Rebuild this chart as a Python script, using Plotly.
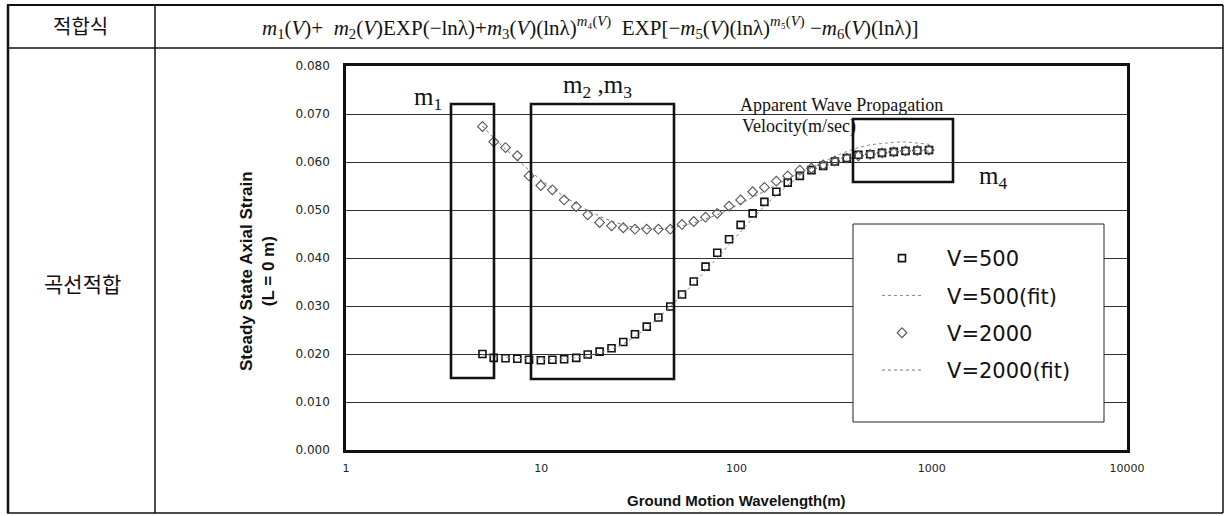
import plotly.graph_objects as go

# ---------------- data ----------------
wavelength = [5.0, 5.71, 6.56, 7.54, 8.66, 9.95, 11.4, 13.1, 15.1, 17.3,
              19.9, 22.9, 26.3, 30.2, 34.7, 39.8, 45.8, 52.6, 60.4, 69.4,
              79.7, 91.6, 105, 121, 139, 160, 183, 211, 242, 278,
              319, 367, 421, 484, 556, 639, 734, 843, 968]

v500 = [0.0200, 0.0192, 0.0191, 0.0190, 0.0188, 0.0187, 0.0188, 0.0189, 0.0192, 0.0199,
        0.0205, 0.0212, 0.0225, 0.0241, 0.0257, 0.0276, 0.0299, 0.0324, 0.0351, 0.0382,
        0.0411, 0.0439, 0.0469, 0.0493, 0.0517, 0.0538, 0.0557, 0.0571, 0.0583, 0.0592,
        0.0601, 0.0608, 0.0615, 0.0616, 0.0619, 0.0621, 0.0623, 0.0624, 0.0625]

v500_fit = [0.0198, 0.0195, 0.0193, 0.0191, 0.0190, 0.0189, 0.0189, 0.0190, 0.0192, 0.0196,
            0.0202, 0.0210, 0.0221, 0.0236, 0.0254, 0.0275, 0.0298, 0.0322, 0.0347, 0.0373,
            0.0400, 0.0428, 0.0456, 0.0483, 0.0508, 0.0531, 0.0552, 0.0570, 0.0586, 0.0600,
            0.0612, 0.0622, 0.0630, 0.0636, 0.0639, 0.0641, 0.0642, 0.0640, 0.0637]

v2000 = [0.0674, 0.0642, 0.0630, 0.0613, 0.0571, 0.0551, 0.0542, 0.0521, 0.0507, 0.0490,
         0.0474, 0.0467, 0.0463, 0.0460, 0.0460, 0.0460, 0.0460, 0.0470, 0.0476, 0.0485,
         0.0493, 0.0508, 0.0521, 0.0538, 0.0547, 0.0560, 0.0571, 0.0583, 0.0587, 0.0594,
         0.0602, 0.0608, 0.0613, 0.0616, 0.0619, 0.0621, 0.0623, 0.0624, 0.0625]

v2000_fit = [0.0675, 0.0650, 0.0627, 0.0604, 0.0583, 0.0563, 0.0545, 0.0528, 0.0513, 0.0499,
             0.0487, 0.0477, 0.0469, 0.0464, 0.0461, 0.0461, 0.0463, 0.0467, 0.0473, 0.0481,
             0.0490, 0.0501, 0.0513, 0.0526, 0.0539, 0.0552, 0.0565, 0.0577, 0.0588, 0.0598,
             0.0606, 0.0613, 0.0618, 0.0621, 0.0623, 0.0624, 0.0624, 0.0624, 0.0623]

x_tickvals = [1, 10, 100, 1000, 10000]
x_ticktext = ["1", "10", "100", "1000", "10000"]
y_tickvals = [0.0, 0.01, 0.02, 0.03, 0.04, 0.05, 0.06, 0.07, 0.08]

# ---------------- layout helpers ----------------
W, H = 1226, 516
L, R, T, B = 346, 1127, 66, 450


def px(x):
    return (x - L) / (R - L)


def py(y):
    return (B - y) / (B - T)


SANS = "Liberation Sans, Arial, sans-serif"
WIDE = "DejaVu Sans, sans-serif"
SERIF = "Liberation Serif, Times New Roman, serif"
KR = "Noto Sans CJK KR"
PAD = "\u00a0\u00a0\u00a0"

fig = go.Figure()

fig.add_trace(go.Scatter(
    x=wavelength, y=v500, mode="markers", name=PAD + "V=500", legendgroup="a",
    marker=dict(symbol="square-open", size=7, color="#111", line=dict(width=1.6)),
))
fig.add_trace(go.Scatter(
    x=wavelength, y=v500_fit, mode="lines", name=PAD + "V=500(fit)", legendgroup="b",
    line=dict(color="#888", width=1, dash="dot"),
))
fig.add_trace(go.Scatter(
    x=wavelength, y=v2000, mode="markers", name=PAD + "V=2000", legendgroup="c",
    marker=dict(symbol="diamond-open", size=7.5, color="#555", line=dict(width=1.1)),
))
fig.add_trace(go.Scatter(
    x=wavelength, y=v2000_fit, mode="lines", name=PAD + "V=2000(fit)", legendgroup="d",
    line=dict(color="#777", width=1, dash="dot"),
))

shapes = []
# table lines
tbl = dict(type="line", xref="paper", yref="paper", line=dict(color="#111", width=1.5), layer="above")
shapes += [
    dict(tbl, x0=px(7), x1=px(1223), y0=py(5), y1=py(5), line=dict(color="#111", width=2)),
    dict(tbl, x0=px(7), x1=px(1223), y0=py(48), y1=py(48)),
    dict(tbl, x0=px(7), x1=px(1223), y0=py(513), y1=py(513)),
    dict(tbl, x0=px(8), x1=px(8), y0=py(5), y1=py(513), line=dict(color="#111", width=2.5)),
    dict(tbl, x0=px(155), x1=px(155), y0=py(5), y1=py(513)),
    dict(tbl, x0=px(1223), x1=px(1223), y0=py(5), y1=py(513)),
]
# parameter boxes
box = dict(type="rect", xref="paper", yref="paper", line=dict(color="#111", width=2.6), layer="above")
shapes += [
    dict(box, x0=px(451), x1=px(494), y0=py(104), y1=py(378)),
    dict(box, x0=px(531), x1=px(674), y0=py(104), y1=py(379)),
    dict(box, x0=px(853), x1=px(953), y0=py(119), y1=py(182)),
]
# legend frame
shapes.append(dict(type="rect", xref="paper", yref="paper", x0=px(853), x1=px(1104),
                   y0=py(224), y1=py(422), fillcolor="white",
                   line=dict(color="#222", width=1), layer="above"))

annotations = [
    dict(text="적합식", x=px(80), y=py(26), font=dict(family=KR, size=20, color="#111")),
    dict(text="곡선적합", x=px(82), y=py(283), font=dict(family=KR, size=21, color="#111")),
    dict(text="<i>m</i><sub>1</sub>(<i>V</i>)+  <i>m</i><sub>2</sub>(<i>V</i>)EXP(−lnλ)+<i>m</i><sub>3</sub>(<i>V</i>)(lnλ)"
              "<sup><i>m</i>₄(<i>V</i>)</sup>  EXP[−<i>m</i><sub>5</sub>(<i>V</i>)(lnλ)<sup><i>m</i>₅(<i>V</i>)</sup>"
              " −<i>m</i><sub>6</sub>(<i>V</i>)(lnλ)]",
         x=px(590), y=py(27), font=dict(family=SERIF, size=21, color="#111")),
    dict(text="<b>Steady State Axial Strain<br>(L = 0 m)</b>", x=px(257), y=py(271), textangle=-90,
         font=dict(family=SANS, size=17, color="#111")),
    dict(text="<b>Ground Motion Wavelength(m)</b>", x=px(736), y=py(500),
         font=dict(family=SANS, size=15, color="#111")),
    dict(text="m<sub>1</sub>", x=px(428), y=py(98), font=dict(family=SERIF, size=25, color="#111")),
    dict(text="m<sub>2</sub> ,m<sub>3</sub>", x=px(597), y=py(86), font=dict(family=SERIF, size=25, color="#111")),
    dict(text="m<sub>4</sub>", x=px(993), y=py(177), font=dict(family=SERIF, size=25, color="#111")),
    dict(text="Apparent Wave Propagation", x=px(738), y=py(105), xanchor="left",
         font=dict(family=SERIF, size=18, color="#111")),
    dict(text="Velocity(m/sec)", x=px(740), y=py(126), xanchor="left",
         font=dict(family=SERIF, size=18, color="#111")),
]
for a in annotations:
    a.setdefault("xref", "paper")
    a.setdefault("yref", "paper")
    a.setdefault("showarrow", False)
    a.setdefault("xanchor", "center")
    a.setdefault("yanchor", "middle")

fig.update_layout(
    width=W, height=H,
    margin=dict(l=L, r=W - R, t=T, b=H - B, pad=0),
    paper_bgcolor="white", plot_bgcolor="white",
    shapes=shapes, annotations=annotations,
    showlegend=True,
    legend=dict(x=px(877), y=py(238), xanchor="left", yanchor="top",
                bgcolor="rgba(0,0,0,0)", borderwidth=0, tracegroupgap=7,
                itemwidth=40, font=dict(family=WIDE, size=21, color="#111")),
    xaxis=dict(type="log", range=[0, 4], tickvals=x_tickvals, ticktext=x_ticktext,
               showgrid=False, zeroline=False, showline=True, linewidth=2.5, linecolor="#111",
               mirror=True, ticks="", ticklabelstandoff=6,
               tickfont=dict(family=WIDE, size=11, color="#222")),
    yaxis=dict(range=[0, 0.08], tickvals=y_tickvals, tickformat=".3f",
               showgrid=True, gridcolor="#333", gridwidth=1.2, zeroline=False,
               showline=True, linewidth=2.5, linecolor="#111", mirror=True, ticks="",
               ticklabelstandoff=11,
               tickfont=dict(family=WIDE, size=12, color="#222")),
)

fig.write_html("out.html")
